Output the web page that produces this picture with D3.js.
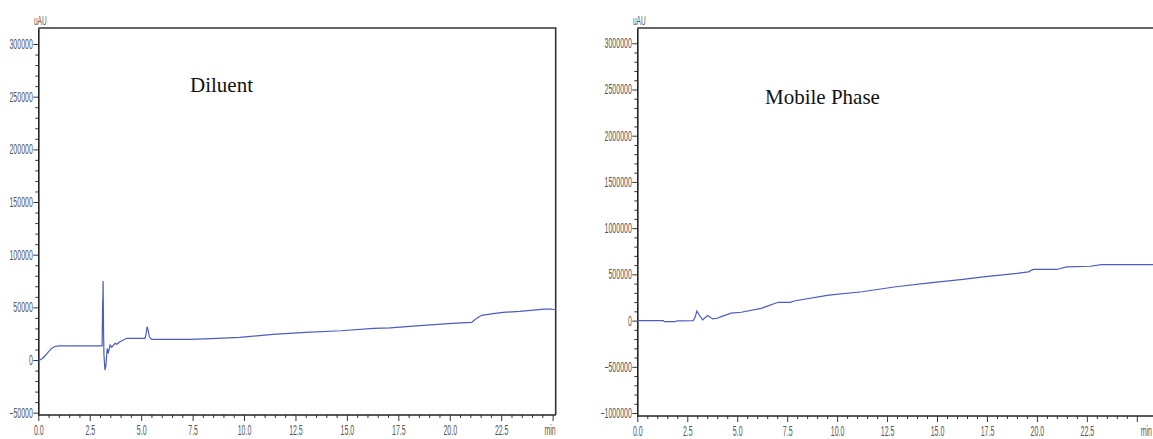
<!DOCTYPE html>
<html>
<head>
<meta charset="utf-8">
<script src="https://cdn.jsdelivr.net/npm/d3@7"></script>
<style>
  body { margin: 0; background: #fff; }
  svg { display: block; }
  .tick text { font-family: "Liberation Sans", Arial, sans-serif; font-size: 14px; fill: #555; }
  .title { font-family: "Liberation Serif", "Times New Roman", serif; font-size: 21px; fill: #111; }
  .unit { font-family: "Liberation Sans", Arial, sans-serif; font-size: 13px; fill: #555; }
</style>
</head>
<body>
<div id="chart"></div>
<script>
// DATA

// Diluent trace: time (min) and signal (uAU)
const diluentTime = [0, 0.1, 0.2, 0.35, 0.5, 0.65, 0.8, 1.0, 3.10, 3.12, 3.13, 3.14, 3.15, 3.17, 3.19, 3.24,
  3.28, 3.35, 3.40, 3.49, 3.57, 3.73, 3.81, 3.97, 4.30, 5.19, 5.24, 5.29, 5.34, 5.40, 5.51, 7.40, 8.7, 9.8,
  11.4, 13.0, 14.7, 16.3, 17.1, 18.55, 20.1, 21.07, 21.3, 21.55, 22.1, 22.6, 23.4, 24.6, 24.95, 25.15];
const diluentSignal = [0, 300, 1500, 4500, 8000, 11000, 12800, 13500, 13500, 40000, 57000, 57000, 75000, 30000, 5000, -9500,
  -6000, 11000, 6300, 14200, 12000, 15800, 14900, 17400, 20600, 20600, 25000, 31600, 28000, 22000, 19600, 19600, 20600, 21500,
  24400, 26300, 27800, 30100, 30600, 32600, 34800, 35800, 39500, 42400, 44000, 45200, 46200, 48400, 48400, 47500];

// Mobile phase trace
const mobileTime = [0, 1.3, 1.35, 1.9, 2.0, 2.8, 2.9, 2.98, 3.1, 3.27, 3.52, 3.77, 4.0, 4.2, 4.7, 5.2, 6.2,
  7.05, 7.64, 7.9, 9.58, 11.26, 12.94, 14.63, 16.3, 17.32, 19.0, 19.57, 19.82, 20.99, 21.49, 22.66, 23.24, 26.5];
const mobileSignal = [0, 0, -12000, -12000, -2000, 0, 40000, 104000, 60000, 7500, 54000, 18000, 25000, 43000, 80000, 90000, 133000,
  198000, 198000, 215000, 276000, 312000, 366000, 409000, 445000, 473000, 510000, 527000, 553000, 553000, 581000, 588000, 606000, 606000];

// tick labels
const timeTicks = [0, 2.5, 5, 7.5, 10, 12.5, 15, 17.5, 20, 22.5, 25];
const diluentYTicks = [-50000, 0, 50000, 100000, 150000, 200000, 250000, 300000];
const mobileYTicks = [-1000000, -500000, 0, 500000, 1000000, 1500000, 2000000, 2500000, 3000000];

const width = 1153, height = 439;

const svg = d3.select("#chart").append("svg")
  .attr("width", width)
  .attr("height", height);

const squeeze = 0.5; // narrow tick font

function drawPanel(p) {
  const x = d3.scaleLinear().domain(p.xDomain).range([p.left, p.right]);
  const y = d3.scaleLinear().domain(p.yDomain).range([p.bottom, p.top]);
  const g = svg.append("g");

  // minor ticks
  const minorX = d3.range(0, 25.01, 0.5).filter(v => !timeTicks.includes(v));
  g.append("g")
    .attr("transform", `translate(0,${p.bottom})`)
    .call(d3.axisBottom(x).tickValues(minorX).tickSize(3).tickFormat(""))
    .call(a => a.select(".domain").remove());

  const minorY = d3.range(p.yTicks[0], p.yTicks[p.yTicks.length - 1] + 1, p.yMinor)
    .filter(v => !p.yTicks.includes(v));
  g.append("g")
    .attr("transform", `translate(${p.left},0)`)
    .call(d3.axisLeft(y).tickValues(minorY).tickSize(3).tickFormat(""))
    .call(a => a.select(".domain").remove());

  // major axes
  const xAxis = g.append("g")
    .attr("transform", `translate(0,${p.bottom})`)
    .call(d3.axisBottom(x).tickValues(timeTicks).tickSize(6).tickSizeOuter(0)
      .tickFormat(d => d === 25 ? "min" : d3.format(".1f")(d)));
  xAxis.selectAll(".tick text")
    .attr("y", 10)
    .attr("x", d => d === 25 ? p.minShift / squeeze : 0)
    .attr("transform", `scale(${squeeze},1)`);

  const yAxis = g.append("g")
    .attr("transform", `translate(${p.left},0)`)
    .call(d3.axisLeft(y).tickValues(p.yTicks).tickSize(5).tickSizeOuter(0).tickFormat(d3.format("d")));
  yAxis.selectAll(".tick text")
    .attr("x", -5.5 / squeeze)
    .attr("transform", `scale(${squeeze},1)`);

  [xAxis, yAxis].forEach(a => {
    a.select(".domain").attr("stroke", "#222").attr("stroke-width", 1.6);
  });
  g.selectAll(".tick line").attr("stroke", "#333");

  // x domain line across the full frame
  xAxis.select(".domain").attr("d", `M${p.left},0H${p.right}`);

  // frame
  g.append("path")
    .attr("d", p.closed
      ? `M${p.left},${p.top}H${p.right}V${p.bottom}`
      : `M${p.left},${p.top}H${p.right}`)
    .attr("fill", "none")
    .attr("stroke", "#333")
    .attr("stroke-width", 1.6);

  // trace
  const pts = p.time.map((t, i) => [t, p.signal[i]]);
  g.append("path")
    .datum(pts)
    .attr("fill", "none")
    .attr("stroke", "#4a5cc0")
    .attr("stroke-width", 1.2)
    .attr("d", d3.line().x(d => x(d[0])).y(d => y(d[1])));

  g.append("text")
    .attr("class", "unit")
    .attr("x", p.left + 2)
    .attr("y", 25)
    .attr("text-anchor", "middle")
    .attr("transform", `translate(${(p.left + 2) * (1 - squeeze)},0) scale(${squeeze},1)`)
    .text("uAU");

  g.append("text")
    .attr("class", "title")
    .attr("x", p.titleX)
    .attr("y", p.titleY)
    .text(p.title);
}

drawPanel({
  time: diluentTime, signal: diluentSignal, yTicks: diluentYTicks, yMinor: 10000,
  xDomain: [0, 25.15], yDomain: [-52200, 315200],
  left: 38.3, right: 555.7, top: 28, bottom: 415,
  closed: true, minShift: -3,
  title: "Diluent", titleX: 190, titleY: 92
});

drawPanel({
  time: mobileTime, signal: mobileSignal, yTicks: mobileYTicks, yMinor: 100000,
  xDomain: [0, 26.2], yDomain: [-1032000, 3165000],
  left: 637.3, right: 1160.8, top: 28, bottom: 416,
  closed: false, minShift: 9,
  title: "Mobile Phase", titleX: 765, titleY: 104
});
</script>
</body>
</html>
